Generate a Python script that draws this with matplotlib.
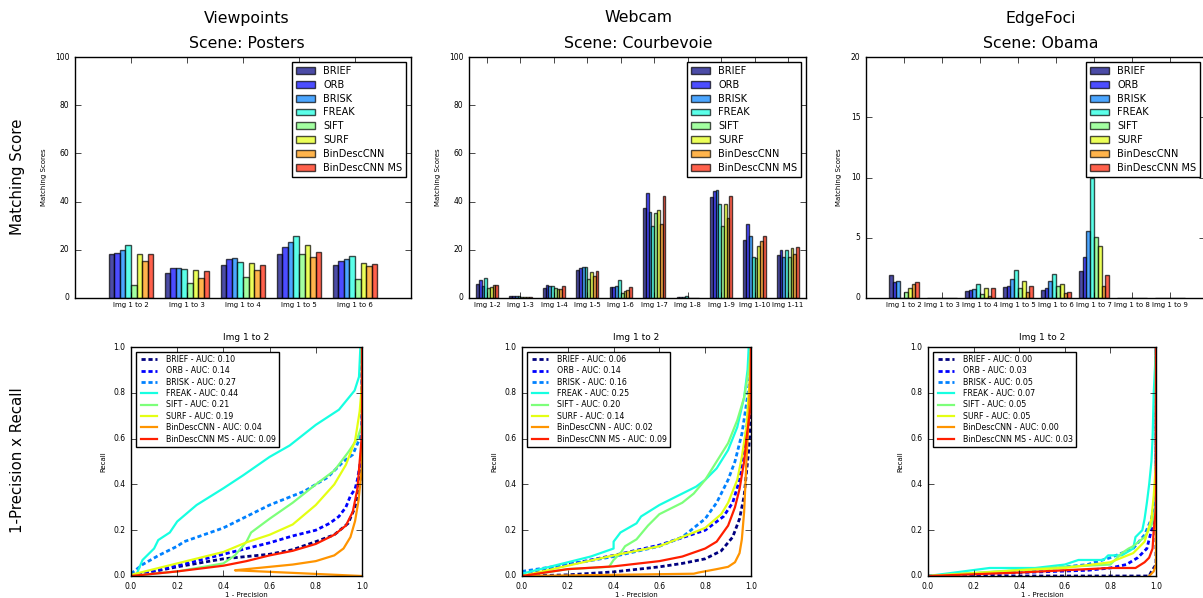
import numpy as np
import matplotlib
matplotlib.use("Agg")
import matplotlib.pyplot as plt
from matplotlib import cm

plt.style.use('classic')
plt.rcParams['font.family'] = ['DejaVu Sans']
plt.rcParams['figure.facecolor'] = 'white'
plt.rcParams['savefig.facecolor'] = 'white'

methods = ["BRIEF", "ORB", "BRISK", "FREAK", "SIFT", "SURF", "BinDescCNN", "BinDescCNN MS"]

# ---------------- Matching scores (bar charts) ----------------
vp_labels = ["Img 1 to 2", "Img 1 to 3", "Img 1 to 4", "Img 1 to 5", "Img 1 to 6"]
vp_scores = [
    [18.2, 10.4, 13.5, 18.2, 13.6],   # BRIEF
    [18.7, 12.6, 16.0, 21.2, 15.4],   # ORB
    [20.1, 12.5, 16.8, 23.2, 16.0],   # BRISK
    [21.9, 12.2, 15.1, 25.9, 17.6],   # FREAK
    [5.3, 6.1, 8.6, 18.2, 7.8],       # SIFT
    [18.2, 11.5, 14.7, 22.1, 14.7],   # SURF
    [15.3, 8.5, 11.5, 17.2, 13.3],    # BinDescCNN
    [18.2, 11.0, 13.7, 18.9, 14.3],   # BinDescCNN MS
]

wc_labels = ["Img 1-2", "Img 1-3", "Img 1-4", "Img 1-5", "Img 1-6",
             "Img 1-7", "Img 1-8", "Img 1-9", "Img 1-10", "Img 1-11"]
wc_scores = [
    [5.7, 0.7, 4.2, 11.7, 4.4, 37.2, 0.5, 41.8, 23.9, 18.0],
    [7.6, 1.0, 5.3, 12.5, 4.6, 43.5, 0.3, 44.5, 30.9, 20.1],
    [4.9, 1.0, 4.9, 12.8, 5.1, 35.8, 0.5, 44.9, 25.6, 16.9],
    [8.3, 0.7, 5.1, 12.8, 7.6, 29.9, 1.0, 39.0, 16.9, 20.0],
    [4.2, 0.5, 4.2, 7.8, 1.9, 35.4, 0.2, 29.9, 16.4, 17.1],
    [4.4, 0.6, 3.7, 10.8, 3.1, 36.6, 0.2, 39.0, 21.7, 20.8],
    [5.3, 0.6, 3.6, 9.0, 3.5, 30.9, 0.2, 33.3, 23.8, 18.2],
    [5.3, 0.6, 5.1, 11.2, 4.4, 42.4, 0.2, 42.4, 25.6, 21.1],
]

ef_labels = ["Img 1 to 2", "Img 1 to 3", "Img 1 to 4", "Img 1 to 5",
             "Img 1 to 6", "Img 1 to 7", "Img 1 to 8", "Img 1 to 9"]
ef_scores = [
    [1.9, 0.0, 0.55, 0.9, 0.7, 2.2, 0.0, 0.0],
    [1.3, 0.0, 0.7, 1.0, 0.8, 3.4, 0.0, 0.0],
    [1.45, 0.0, 0.75, 1.6, 1.45, 5.6, 0.0, 0.0],
    [0.0, 0.0, 1.2, 2.3, 2.0, 10.0, 0.0, 0.0],
    [0.5, 0.0, 0.35, 0.8, 1.0, 5.1, 0.0, 0.0],
    [0.8, 0.0, 0.8, 1.4, 1.2, 4.35, 0.0, 0.0],
    [1.2, 0.0, 0.2, 0.5, 0.4, 1.0, 0.0, 0.0],
    [1.3, 0.0, 0.8, 1.0, 0.5, 1.95, 0.0, 0.0],
]

# ---------------- PR curves (x = 1 - precision, y = recall) ----------------
vp_auc = ["0.10", "0.14", "0.27", "0.44", "0.21", "0.19", "0.04", "0.09"]
vp_x = [
    [0.0, 0.2, 0.4, 0.6, 0.7, 0.8, 0.88, 0.94, 0.97, 0.99, 1.0, 1.0],
    [0.0, 0.2, 0.4, 0.5, 0.6, 0.7, 0.8, 0.86, 0.9, 0.93, 0.95, 0.97, 0.98, 0.99, 1.0, 1.0],
    [0.0, 0.05, 0.12, 0.2, 0.23, 0.4, 0.6, 0.75, 0.85, 0.92, 0.96, 0.99, 1.0, 1.0],
    [0.0, 0.025, 0.05, 0.1, 0.118, 0.168, 0.2, 0.284, 0.4, 0.486, 0.6, 0.687, 0.8, 0.9, 0.968, 0.987, 0.993, 1.0],
    [0.0, 0.2, 0.4, 0.45, 0.5, 0.52, 0.6, 0.7, 0.8, 0.88, 0.94, 0.98, 1.0, 1.0],
    [0.0, 0.2, 0.4, 0.5, 0.6, 0.7, 0.8, 0.88, 0.93, 0.97, 0.99, 1.0, 1.0],
    [1.0, 0.45, 0.5, 0.6, 0.7, 0.8, 0.88, 0.92, 0.95, 0.97, 0.985, 1.0, 1.0],
    [0.0, 0.2, 0.4, 0.5, 0.6, 0.7, 0.8, 0.88, 0.93, 0.96, 0.98, 0.99, 1.0, 1.0],
]
vp_y = [
    [0.0, 0.04, 0.075, 0.095, 0.115, 0.15, 0.18, 0.23, 0.3, 0.4, 0.5, 1.0],
    [0.0, 0.045, 0.095, 0.12, 0.145, 0.175, 0.2, 0.23, 0.26, 0.3, 0.35, 0.38, 0.42, 0.48, 0.56, 1.0],
    [0.01, 0.05, 0.09, 0.13, 0.15, 0.21, 0.31, 0.37, 0.43, 0.5, 0.53, 0.6, 0.65, 1.0],
    [0.0, 0.01, 0.07, 0.12, 0.157, 0.19, 0.238, 0.31, 0.383, 0.44, 0.52, 0.57, 0.66, 0.726, 0.81, 0.87, 1.0, 1.0],
    [0.0, 0.02, 0.055, 0.09, 0.15, 0.19, 0.25, 0.32, 0.4, 0.46, 0.54, 0.6, 0.66, 1.0],
    [0.005, 0.055, 0.105, 0.147, 0.18, 0.225, 0.31, 0.4, 0.485, 0.59, 0.72, 0.84, 1.0],
    [0.0, 0.025, 0.03, 0.04, 0.05, 0.065, 0.09, 0.12, 0.17, 0.24, 0.33, 0.48, 1.0],
    [0.0, 0.02, 0.045, 0.065, 0.09, 0.11, 0.14, 0.18, 0.22, 0.28, 0.38, 0.5, 0.62, 1.0],
]

wc_auc = ["0.06", "0.14", "0.16", "0.25", "0.20", "0.14", "0.02", "0.09"]
wc_x = [
    [0.0, 0.2, 0.4, 0.6, 0.7, 0.8, 0.87, 0.92, 0.95, 0.97, 0.98, 0.99, 1.0, 1.0],
    [0.0, 0.2, 0.4, 0.6, 0.8, 0.88, 0.92, 0.95, 0.97, 0.99, 1.0, 1.0],
    [0.0, 0.2, 0.4, 0.6, 0.7, 0.8, 0.85, 0.9, 0.93, 0.96, 0.98, 1.0, 1.0],
    [0.0, 0.2, 0.3, 0.4, 0.4, 0.43, 0.5, 0.52, 0.6, 0.7, 0.76, 0.8, 0.85, 0.9, 0.94, 0.97, 0.985, 0.99, 1.0],
    [0.0, 0.2, 0.38, 0.4, 0.43, 0.45, 0.5, 0.55, 0.6, 0.7, 0.75, 0.8, 0.85, 0.9, 0.94, 0.97, 0.99, 1.0],
    [0.0, 0.2, 0.4, 0.6, 0.7, 0.8, 0.87, 0.9, 0.94, 0.96, 0.98, 0.99, 1.0, 1.0],
    [0.0, 0.4, 0.75, 0.77, 0.85, 0.9, 0.93, 0.95, 0.96, 0.97, 0.98, 0.99, 1.0],
    [0.0, 0.2, 0.4, 0.6, 0.7, 0.8, 0.85, 0.9, 0.93, 0.95, 0.97, 0.98, 1.0, 1.0],
]
wc_y = [
    [0.0, 0.005, 0.018, 0.04, 0.055, 0.075, 0.11, 0.17, 0.25, 0.35, 0.45, 0.55, 0.7, 1.0],
    [0.0, 0.05, 0.09, 0.135, 0.2, 0.26, 0.32, 0.42, 0.55, 0.72, 0.9, 1.0],
    [0.02, 0.05, 0.085, 0.13, 0.17, 0.25, 0.32, 0.42, 0.5, 0.62, 0.75, 0.9, 1.0],
    [0.01, 0.06, 0.085, 0.12, 0.15, 0.19, 0.23, 0.26, 0.31, 0.36, 0.39, 0.42, 0.47, 0.55, 0.65, 0.78, 0.9, 1.0, 1.0],
    [0.0, 0.03, 0.04, 0.07, 0.1, 0.13, 0.16, 0.22, 0.27, 0.32, 0.36, 0.42, 0.5, 0.58, 0.68, 0.78, 0.9, 1.0],
    [0.0, 0.045, 0.09, 0.13, 0.17, 0.21, 0.27, 0.32, 0.42, 0.52, 0.65, 0.8, 0.9, 1.0],
    [0.0, 0.005, 0.01, 0.015, 0.03, 0.04, 0.06, 0.1, 0.16, 0.28, 0.5, 0.7, 1.0],
    [0.0, 0.03, 0.042, 0.065, 0.085, 0.12, 0.15, 0.22, 0.3, 0.38, 0.5, 0.6, 0.75, 1.0],
]

ef_auc = ["0.00", "0.03", "0.05", "0.07", "0.05", "0.05", "0.00", "0.03"]
ef_x = [
    [0.0, 0.97, 0.98, 1.0, 1.0],
    [0.0, 0.4, 0.7, 0.8, 0.87, 0.92, 0.96, 0.98, 1.0, 1.0],
    [0.0, 0.4, 0.7, 0.8, 0.85, 0.9, 0.95, 0.98, 1.0, 1.0],
    [0.0, 0.27, 0.47, 0.6, 0.66, 0.77, 0.79, 0.85, 0.9, 0.91, 0.94, 0.95, 0.96, 0.97, 0.98, 0.985, 0.99, 1.0],
    [0.0, 0.3, 0.6, 0.8, 0.85, 0.88, 0.9, 0.95, 0.98, 1.0, 1.0],
    [0.0, 0.4, 0.6, 0.8, 0.9, 0.95, 0.98, 0.99, 1.0, 1.0],
    [0.97, 0.99, 1.0, 1.0],
    [0.0, 0.4, 0.6, 0.8, 0.91, 0.95, 0.97, 0.985, 0.99, 1.0, 1.0],
]
ef_y = [
    [0.0, 0.0, 0.02, 0.05, 1.0],
    [0.0, 0.015, 0.025, 0.035, 0.05, 0.08, 0.12, 0.2, 0.3, 1.0],
    [0.0, 0.02, 0.05, 0.08, 0.1, 0.12, 0.18, 0.25, 0.35, 1.0],
    [0.0, 0.035, 0.035, 0.05, 0.07, 0.07, 0.09, 0.09, 0.12, 0.17, 0.2, 0.25, 0.32, 0.4, 0.5, 0.6, 0.8, 1.0],
    [0.0, 0.02, 0.04, 0.05, 0.1, 0.12, 0.13, 0.17, 0.22, 0.3, 1.0],
    [0.0, 0.025, 0.035, 0.06, 0.1, 0.15, 0.25, 0.35, 0.5, 1.0],
    [0.0, 0.02, 0.05, 1.0],
    [0.0, 0.015, 0.025, 0.035, 0.035, 0.06, 0.08, 0.12, 0.2, 0.3, 1.0],
]

col_titles = [("Viewpoints", "Scene: Posters"),
              ("Webcam", "Scene: Courbevoie"),
              ("EdgeFoci", "Scene: Obama")]

colors = [cm.jet(i / 8.0) for i in range(8)]
styles = ['--', '--', '--', '-', '-', '-', '-', '-']

W, H = 1203.0, 598.0
fig = plt.figure(figsize=(W / 100, H / 100), dpi=100)


def px_axes(x0, x1, y0, y1):
    return fig.add_axes([x0 / W, 1 - y1 / H, (x1 - x0) / W, (y1 - y0) / H])


def bar_panel(ax, labels, scores, width, xlim, ymax, yticks):
    n = len(labels)
    idx = np.arange(n)
    for i, (name, vals) in enumerate(zip(methods, scores)):
        ax.bar(idx + (i - 4) * width, vals, width, align='edge', color=colors[i],
               alpha=0.7, edgecolor='black', linewidth=1.0, label=name)
    ax.set_xlim(*xlim)
    ax.set_ylim(0, ymax)
    ax.set_xticks(idx)
    ax.set_xticklabels(labels, fontsize=5)
    ax.set_yticks(yticks)
    ax.tick_params(axis='y', labelsize=5.5)
    ax.tick_params(axis='x', pad=3)
    ax.set_ylabel("Matching Scores", fontsize=5, labelpad=6)
    leg = ax.legend(loc='upper right', fontsize=7, borderaxespad=0.5,
                    labelspacing=0.4)
    leg.get_frame().set_linewidth(1.0)


def pr_panel(ax, xs, ys, aucs):
    for i in range(8):
        kw = dict(color=colors[i], label=f"{methods[i]} - AUC: {aucs[i]}")
        if styles[i] == '--':
            ax.plot(xs[i], ys[i], linestyle='--', dashes=(3, 2), linewidth=2.0, **kw)
        else:
            ax.plot(xs[i], ys[i], linestyle='-', linewidth=1.6, **kw)
    ax.set_xlim(0, 1)
    ax.set_ylim(0, 1)
    ticks = [0.0, 0.2, 0.4, 0.6, 0.8, 1.0]
    ax.set_xticks(ticks)
    ax.set_yticks(ticks)
    ax.tick_params(labelsize=5.5)
    ax.set_xlabel("1 - Precision", fontsize=5, labelpad=1)
    ax.set_ylabel("Recall", fontsize=5)
    ax.set_title("Img 1 to 2", fontsize=6.5, pad=5)
    ax.legend(loc='upper left', fontsize=5.7, borderaxespad=0.6,
              handlelength=2.6, labelspacing=0.3)


ax1 = px_axes(75, 411, 57, 298)
bar_panel(ax1, vp_labels, vp_scores, 0.1, (-1, 5), 100, [0, 20, 40, 60, 80, 100])
ax2 = px_axes(469, 806, 57, 298)
bar_panel(ax2, wc_labels, wc_scores, 0.083, (-0.54, 9.54), 100, [0, 20, 40, 60, 80, 100])
ax3 = px_axes(866, 1205, 57, 298)
bar_panel(ax3, ef_labels, ef_scores, 0.1, (-1, 7.92), 20, [0, 5, 10, 15, 20])

ax4 = px_axes(131, 362, 347, 576)
pr_panel(ax4, vp_x, vp_y, vp_auc)
ax5 = px_axes(522, 751, 347, 576)
pr_panel(ax5, wc_x, wc_y, wc_auc)
ax6 = px_axes(928, 1156, 347, 576)
pr_panel(ax6, ef_x, ef_y, ef_auc)

for cx, (t1, t2) in zip([247, 638, 1041], col_titles):
    fig.text(cx / W, 1 - 18 / H, t1, ha='center', va='center', fontsize=11.3)
    fig.text(cx / W, 1 - 43 / H, t2, ha='center', va='center', fontsize=11.3)

fig.text(18 / W, 1 - 177 / H, "Matching Score", rotation=90, ha='center', va='center', fontsize=10.8)
fig.text(18 / W, 1 - 460 / H, "1-Precision x Recall", rotation=90, ha='center', va='center', fontsize=10.8)

fig.savefig("out.png", dpi=100)
